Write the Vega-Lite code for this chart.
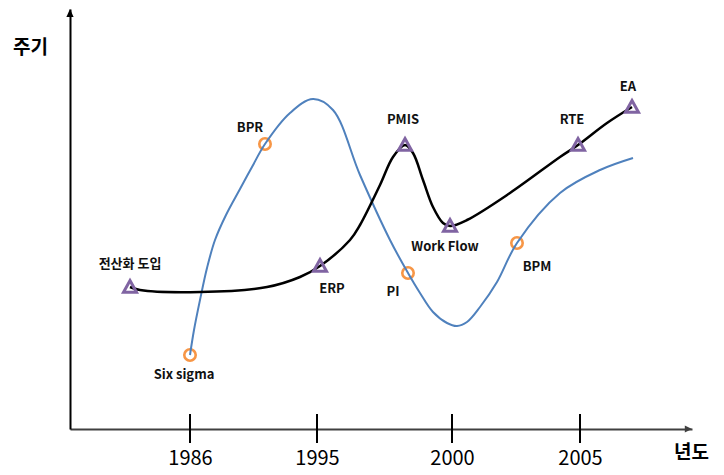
{
  "$schema": "https://vega.github.io/schema/vega-lite/v6.json",
  "width": 622,
  "height": 420,
  "autosize": {"type": "none"},
  "padding": {"left": 70, "top": 9, "right": 32, "bottom": 46},
  "background": "white",
  "config": {
    "view": {"stroke": null},
    "font": "Noto Sans CJK KR"
  },
  "datasets": {
    "curves": [
      {"series": "black", "x": 60, "y": 142},
      {"series": "black", "x": 70, "y": 139},
      {"series": "black", "x": 130, "y": 137},
      {"series": "black", "x": 197, "y": 142},
      {"series": "black", "x": 230, "y": 152},
      {"series": "black", "x": 250, "y": 163},
      {"series": "black", "x": 280, "y": 189},
      {"series": "black", "x": 290, "y": 204},
      {"series": "black", "x": 310, "y": 244},
      {"series": "black", "x": 323, "y": 272},
      {"series": "black", "x": 335, "y": 284},
      {"series": "black", "x": 343, "y": 276},
      {"series": "black", "x": 353, "y": 249},
      {"series": "black", "x": 363, "y": 222},
      {"series": "black", "x": 373, "y": 206},
      {"series": "black", "x": 380, "y": 203},
      {"series": "black", "x": 397, "y": 209},
      {"series": "black", "x": 440, "y": 236},
      {"series": "black", "x": 490, "y": 272},
      {"series": "black", "x": 508, "y": 284},
      {"series": "black", "x": 537, "y": 306},
      {"series": "black", "x": 562, "y": 322},
      {"series": "blue", "x": 120, "y": 74},
      {"series": "blue", "x": 124, "y": 99},
      {"series": "blue", "x": 130, "y": 129},
      {"series": "blue", "x": 137, "y": 161},
      {"series": "blue", "x": 145, "y": 189},
      {"series": "blue", "x": 156, "y": 214},
      {"series": "blue", "x": 170, "y": 240},
      {"series": "blue", "x": 182, "y": 262},
      {"series": "blue", "x": 195, "y": 285},
      {"series": "blue", "x": 220, "y": 316},
      {"series": "blue", "x": 243, "y": 330},
      {"series": "blue", "x": 263, "y": 319},
      {"series": "blue", "x": 290, "y": 254},
      {"series": "blue", "x": 320, "y": 189},
      {"series": "blue", "x": 338, "y": 156},
      {"series": "blue", "x": 350, "y": 136},
      {"series": "blue", "x": 363, "y": 117},
      {"series": "blue", "x": 377, "y": 106},
      {"series": "blue", "x": 387, "y": 103},
      {"series": "blue", "x": 397, "y": 107},
      {"series": "blue", "x": 410, "y": 122},
      {"series": "blue", "x": 427, "y": 147},
      {"series": "blue", "x": 447, "y": 186},
      {"series": "blue", "x": 490, "y": 236},
      {"series": "blue", "x": 530, "y": 259},
      {"series": "blue", "x": 563, "y": 271}
    ],
    "markers": [
      {"kind": "triangle", "name": "전산화 도입", "x": 60, "y": 142},
      {"kind": "triangle", "name": "ERP", "x": 250, "y": 163},
      {"kind": "triangle", "name": "PMIS", "x": 335, "y": 284},
      {"kind": "triangle", "name": "Work Flow", "x": 380, "y": 203},
      {"kind": "triangle", "name": "RTE", "x": 508, "y": 284},
      {"kind": "triangle", "name": "EA", "x": 562, "y": 322},
      {"kind": "circle", "name": "Six sigma", "x": 120, "y": 74},
      {"kind": "circle", "name": "BPR", "x": 195, "y": 285},
      {"kind": "circle", "name": "PI", "x": 338, "y": 156},
      {"kind": "circle", "name": "BPM", "x": 447, "y": 186}
    ],
    "labels": [
      {"text": "전산화 도입", "x": 60, "y": 165},
      {"text": "BPR", "x": 180, "y": 301},
      {"text": "Six sigma", "x": 114, "y": 54},
      {"text": "ERP", "x": 262, "y": 140},
      {"text": "PMIS", "x": 333, "y": 309},
      {"text": "RTE", "x": 502, "y": 309},
      {"text": "EA", "x": 558, "y": 342},
      {"text": "Work Flow", "x": 375, "y": 182},
      {"text": "PI", "x": 323, "y": 137},
      {"text": "BPM", "x": 467, "y": 162}
    ],
    "ticks": [
      {"year": "1986", "x": 120},
      {"year": "1995", "x": 247},
      {"year": "2000", "x": 382},
      {"year": "2005", "x": 510}
    ],
    "arrows": [
      {"axis": "y", "x": 0, "y": 420, "shape": "M0,0L0.9,2L-0.9,2Z"},
      {"axis": "x", "x": 622, "y": 0, "shape": "M0,0L-1.8,-0.9L-1.8,0.9Z"}
    ]
  },
  "layer": [
    {
      "data": {"name": "ticks"},
      "mark": {"type": "rule", "color": "#000000", "strokeWidth": 2},
      "encoding": {
        "x": {
          "field": "x",
          "type": "quantitative",
          "scale": {"domain": [0, 622], "nice": false, "zero": false},
          "axis": {
            "orient": "bottom",
            "values": [120, 247, 382, 510],
            "labelExpr": "datum.value == 120 ? '1986' : datum.value == 247 ? '1995' : datum.value == 382 ? '2000' : '2005'",
            "ticks": false,
            "tickSize": 0,
            "grid": false,
            "labelPadding": 19,
            "labelFont": "Noto Sans CJK KR",
            "labelFontSize": 20,
            "labelColor": "#000000",
            "domainColor": "#404040",
            "domainWidth": 2,
            "title": "년도",
            "titleFont": "Noto Sans CJK KR",
            "titleFontSize": 19,
            "titleFontWeight": "bold",
            "titleColor": "#000000",
            "titleX": 621,
            "titleY": 23,
            "titleAlign": "center",
            "titleBaseline": "middle",
            "titleAngle": 0
          }
        },
        "y": {
          "datum": -14,
          "type": "quantitative",
          "scale": {"domain": [0, 420], "nice": false, "zero": false},
          "axis": {
            "orient": "left",
            "labels": false,
            "ticks": false,
            "grid": false,
            "domainColor": "#000000",
            "domainWidth": 2,
            "title": "주기",
            "titleFont": "Noto Sans CJK KR",
            "titleFontSize": 19,
            "titleFontWeight": "bold",
            "titleColor": "#000000",
            "titleX": -40,
            "titleY": 38,
            "titleAlign": "center",
            "titleBaseline": "middle",
            "titleAngle": 0
          }
        },
        "y2": {"datum": 15}
      }
    },
    {
      "data": {"name": "arrows"},
      "mark": {"type": "point", "filled": true, "size": 64, "opacity": 1, "strokeWidth": 0},
      "encoding": {
        "x": {"field": "x", "type": "quantitative"},
        "y": {"field": "y", "type": "quantitative"},
        "shape": {"field": "shape", "type": "nominal", "scale": null, "legend": null},
        "color": {"field": "axis", "type": "nominal", "scale": {"domain": ["x", "y"], "range": ["#404040", "#000000"]}, "legend": null}
      }
    },
    {
      "data": {"name": "markers"},
      "transform": [{"filter": "datum.kind == 'circle'"}],
      "mark": {"type": "point", "shape": "circle", "filled": false, "size": 130, "strokeWidth": 2.6, "color": "#F79646", "opacity": 1},
      "encoding": {
        "x": {"field": "x", "type": "quantitative"},
        "y": {"field": "y", "type": "quantitative"}
      }
    },
    {
      "data": {"name": "curves"},
      "transform": [{"filter": "datum.series == 'blue'"}],
      "mark": {"type": "line", "interpolate": "catmull-rom", "color": "#4F81BD", "strokeWidth": 2},
      "encoding": {
        "x": {"field": "x", "type": "quantitative"},
        "y": {"field": "y", "type": "quantitative"}
      }
    },
    {
      "data": {"name": "curves"},
      "transform": [{"filter": "datum.series == 'black'"}],
      "mark": {"type": "line", "interpolate": "catmull-rom", "color": "#000000", "strokeWidth": 2.5},
      "encoding": {
        "x": {"field": "x", "type": "quantitative"},
        "y": {"field": "y", "type": "quantitative"}
      }
    },
    {
      "data": {"name": "markers"},
      "transform": [{"filter": "datum.kind == 'triangle'"}],
      "mark": {"type": "point", "shape": "M0,-1L1,0.8L-1,0.8Z", "filled": false, "size": 169, "strokeWidth": 3, "color": "#8064A2", "opacity": 1},
      "encoding": {
        "x": {"field": "x", "type": "quantitative"},
        "y": {"field": "y", "type": "quantitative"}
      }
    },
    {
      "data": {"name": "labels"},
      "mark": {"type": "text", "font": "Noto Sans CJK KR", "fontSize": 13, "fontWeight": "bold", "color": "#111111", "align": "center", "baseline": "middle"},
      "encoding": {
        "x": {"field": "x", "type": "quantitative"},
        "y": {"field": "y", "type": "quantitative"},
        "text": {"field": "text", "type": "nominal"}
      }
    }
  ]
}
